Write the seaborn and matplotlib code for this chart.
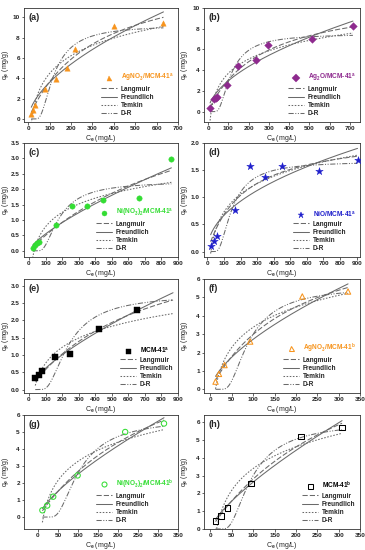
import numpy as np
import pandas as pd
import matplotlib
matplotlib.use("Agg")
import matplotlib.pyplot as plt
import seaborn as sns
from matplotlib.lines import Line2D

sns.set_style("ticks")
plt.rcParams['font.family'] = ['Liberation Sans', 'DejaVu Sans']
plt.rcParams['font.weight'] = 'bold'
plt.rcParams['mathtext.fontset'] = 'custom'
plt.rcParams['mathtext.rm'] = 'Liberation Sans:bold'
plt.rcParams['mathtext.it'] = 'Liberation Sans:bold'
plt.rcParams['mathtext.bf'] = 'Liberation Sans:bold'
plt.rcParams['mathtext.default'] = 'rm'

# ---------------- data ----------------
panel_tags = ["(a)", "(b)", "(c)", "(d)", "(e)", "(f)", "(g)", "(h)"]
series_labels = [
    r"AgNO$_3$/MCM-41$^a$", r"Ag$_2$O/MCM-41$^a$", r"Ni(NO$_3$)$_2$/MCM-41$^a$",
    r"NiO/MCM-41$^a$", r"MCM-41$^a$", r"AgNO$_3$/MCM-41$^b$",
    r"Ni(NO$_3$)$_2$/MCM-41$^b$", r"MCM-41$^b$",
]
ce_a = [14, 22, 30, 80, 128, 180, 218, 400, 632]
qe_a = [0.5, 0.9, 1.35, 2.95, 3.95, 5.05, 6.9, 9.1, 9.45]
ce_b = [10, 28, 38, 45, 95, 150, 235, 295, 515, 715]
qe_b = [0.35, 1.2, 1.35, 1.4, 2.6, 4.45, 4.95, 6.45, 7.0, 8.3]
ce_c = [22, 38, 50, 62, 165, 262, 348, 445, 665, 860]
qe_c = [0.1, 0.2, 0.25, 0.28, 0.83, 1.47, 1.44, 1.65, 1.7, 2.98]
ce_d = [20, 38, 58, 165, 255, 350, 450, 670, 905]
qe_d = [0.1, 0.19, 0.28, 0.76, 1.58, 1.37, 1.57, 1.49, 1.68]
ce_e = [38, 58, 80, 158, 245, 425, 655]
qe_e = [0.33, 0.43, 0.53, 0.93, 1.02, 1.74, 2.3]
ce_f = [12, 20, 33, 93, 215, 322]
qe_f = [0.42, 0.84, 1.32, 2.6, 5.05, 5.32]
ce_g = [11, 23, 38, 99, 218, 315]
qe_g = [0.4, 0.68, 1.2, 2.45, 5.0, 5.5]
ce_h = [12, 25, 40, 95, 212, 308]
qe_h = [0.45, 0.73, 1.18, 2.55, 5.2, 5.7]
ce_all = [ce_a, ce_b, ce_c, ce_d, ce_e, ce_f, ce_g, ce_h]
qe_all = [qe_a, qe_b, qe_c, qe_d, qe_e, qe_f, qe_g, qe_h]

# D-R curve parameters: plateau q and half-rise Ce
dr_qm = [9.2, 7.5, 2.25, 1.66, 2.75, 5.6, 5.8, 6.0]
dr_c50 = [125, 117, 190, 155, 250, 95, 108, 100]
# upper end of the drawn model curves (Ce)
curve_xmax = [632, 715, 860, 905, 870, 322, 315, 308]

xlims = [(-20, 700), (-20, 750), (-30, 900), (-20, 920), (-30, 900), (-15, 350), (-35, 350), (-15, 350)]
ylims = [(-0.3, 10.9), (-1.0, 10.0), (-0.2, 3.5), (-0.1, 2.0), (-0.1, 3.2), (-0.2, 6.0), (-0.7, 6.0), (0.0, 6.4)]
xticks = [np.arange(0, 701, 100), np.arange(0, 701, 100), np.arange(0, 901, 100), np.arange(0, 901, 100),
          np.arange(0, 901, 100), np.arange(0, 351, 50), np.arange(0, 351, 50), np.arange(0, 351, 50)]
yticks = [np.arange(0, 11, 2), np.arange(0, 11, 2), np.arange(0, 3.6, 0.5), np.arange(0, 2.1, 0.5),
          np.arange(0, 3.1, 0.5), np.arange(0, 7, 1), np.arange(0, 7, 1), np.arange(0, 7, 1)]
colors = ["#F7941D", "#8E2A8E", "#33DD33", "#2020CC", "#000000", "#F7941D", "#33DD33", "#000000"]
markers = ["^", "D", "o", "*", "s", "^", "o", "s"]
filled = [True, True, True, True, True, False, False, False]
model_names = ["Langmuir", "Freundlich", "Temkin", "D-R"]
model_styles = [(0, (5, 2)), "-", (0, (1.5, 1.5)), (0, (5, 1.5, 1, 1.5, 1, 1.5))]
curve_color = "#6a6a6a"


# ---------------- model curves ----------------
def fit_lin_scale(f, q):
    a = (f @ q) / (f @ f)
    return a, np.sum((q - a * f) ** 2)


def fit_models(C, q, qm_dr, c50_dr):
    C = np.asarray(C, float); q = np.asarray(q, float)
    best = {}
    res = []
    for K in np.logspace(-6, 1, 3000):
        f = K * C / (1 + K * C); a, s = fit_lin_scale(f, q); res.append((s, K, a))
    s, K, a = min(res); best["Langmuir"] = lambda x, K=K, a=a: a * K * x / (1 + K * x)
    res = []
    for m in np.linspace(0.05, 2.0, 3000):
        f = C ** m; a, s = fit_lin_scale(f, q); res.append((s, m, a))
    s, m, a = min(res); best["Freundlich"] = lambda x, m=m, a=a: a * x ** m
    B, B0 = np.polyfit(np.log(C), q, 1)
    best["Temkin"] = lambda x, B=B, B0=B0: B0 + B * np.log(x)
    k = np.log(2) / np.log(1 + 1 / c50_dr) ** 2
    best["D-R"] = lambda x, k=k, a=qm_dr: a * np.exp(-k * np.log(1 + 1 / x) ** 2)
    return best


# ---------------- layout ----------------
W, H = 365, 550
fig = plt.figure(figsize=(W / 100, H / 100), dpi=100)
col_left = [24, 204]
col_w = [154, 156]
row_top = [8, 143, 279, 415]
ax_h = 114
ylab_x = [11, 190]

for i in range(8):
    r, c = divmod(i, 2)
    ax = fig.add_axes([col_left[c] / W, 1 - (row_top[r] + ax_h) / H, col_w[c] / W, ax_h / H])
    C = np.asarray(ce_all[i], float); q = np.asarray(qe_all[i], float)
    fits = fit_models(C, q, dr_qm[i], dr_c50[i])
    xs = np.linspace(C.min(), curve_xmax[i], 400)
    handles = []
    for name, ls in zip(model_names, model_styles):
        ys = fits[name](xs)
        sns.lineplot(x=xs, y=ys, ax=ax, color=curve_color, lw=0.75, linestyle=ls,
                     sort=False, estimator=None, legend=False)
        handles.append(Line2D([], [], color=curve_color, lw=0.75, linestyle=ls, label=name))
    ms = 32 if markers[i] == "*" else 15
    if filled[i]:
        sns.scatterplot(x=C, y=q, ax=ax, marker=markers[i], s=ms, color=colors[i],
                        edgecolor=colors[i], linewidth=0.3, zorder=5, legend=False)
    else:
        sns.scatterplot(x=C, y=q, ax=ax, marker=markers[i], s=ms, facecolor="none",
                        edgecolor=colors[i], linewidth=0.75, zorder=5, legend=False)
    mh = Line2D([], [], linestyle="none", marker=markers[i], markersize=5 if markers[i] == "*" else 3.6,
                markerfacecolor=colors[i] if filled[i] else "none", markeredgecolor=colors[i],
                markeredgewidth=0.75 if not filled[i] else 0.3, label=series_labels[i])
    leg = ax.legend(handles=[mh] + handles, loc="lower right", frameon=False, fontsize=4.7,
                    handlelength=2.4, handletextpad=0.6, labelspacing=0.2, borderaxespad=0.3)
    leg.get_texts()[0].set_color(colors[i])

    ax.set_xlim(*xlims[i]); ax.set_ylim(*ylims[i])
    ax.set_xticks(xticks[i]); ax.set_yticks(yticks[i])
    if i in (2, 3, 4):
        ax.set_yticklabels([f"{v:.1f}" for v in yticks[i]])
    ax.tick_params(labelsize=4.6, length=1.8, width=0.5, pad=1.2, direction="out")
    for sp in ax.spines.values():
        sp.set_visible(True); sp.set_linewidth(0.6); sp.set_color("#333333")
    ax.set_xlabel(r"C$_e$ (mg/L)", fontsize=5, labelpad=1)
    ax.set_ylabel(r"q$_e$ (mg/g)", fontsize=5)
    ax.yaxis.set_label_coords((ylab_x[c] - col_left[c]) / col_w[c], 0.5)
    ax.text(0.03, 0.96, panel_tags[i], transform=ax.transAxes, ha="left", va="top",
            fontsize=6.5, fontweight="bold")

fig.savefig("out.png", dpi=100)
